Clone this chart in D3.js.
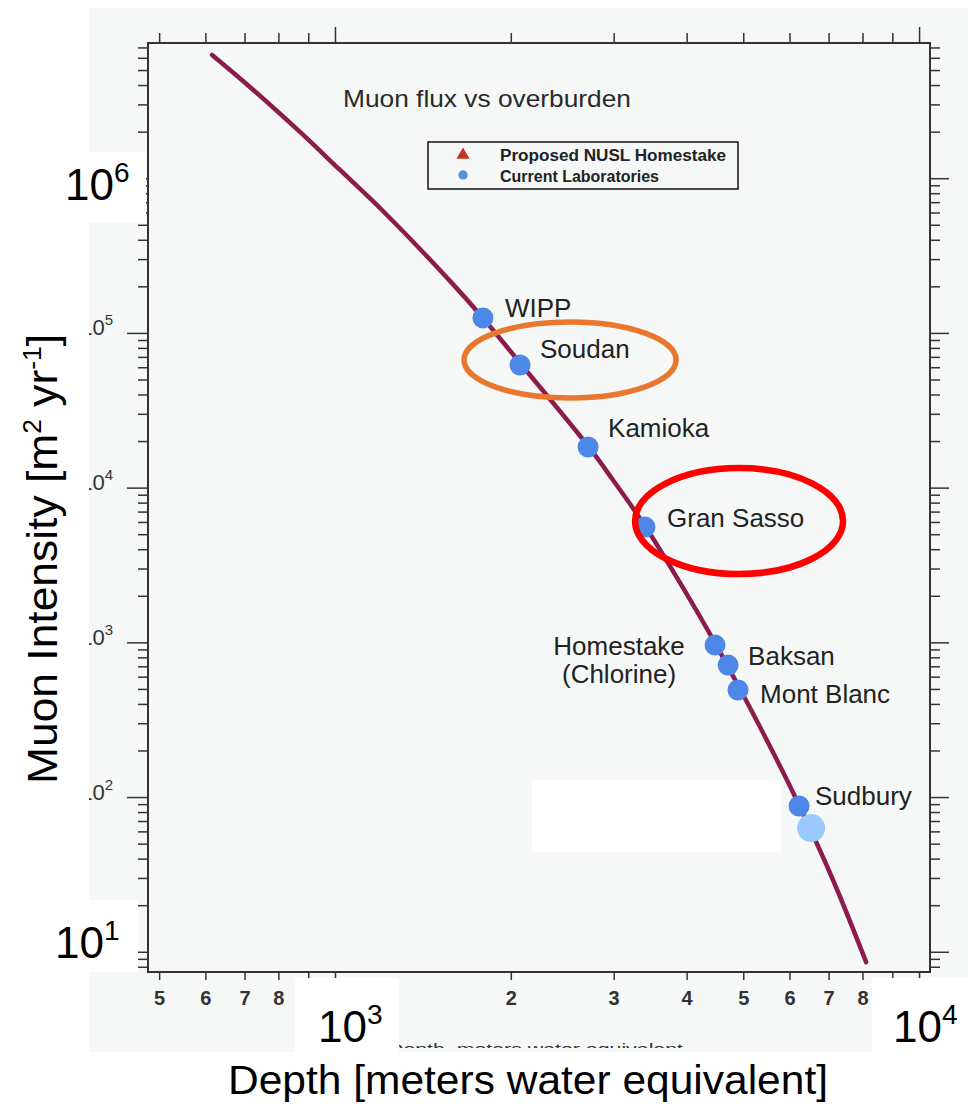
<!DOCTYPE html>
<html>
<head>
<meta charset="utf-8">
<script src="https://cdn.jsdelivr.net/npm/d3@7/dist/d3.min.js"></script>
<style>
  html, body { margin: 0; padding: 0; background: #fff; }
  svg { display: block; }
  text { font-family: "Liberation Sans", Arial, sans-serif; }
</style>
</head>
<body>
<svg id="chart" width="968" height="1104"></svg>
<script>
// underground labs: depth (m.w.e.) and muon intensity (m^-2 yr^-1)
const labNames = ["WIPP", "Soudan", "Kamioka", "Gran Sasso", "Homestake", "Baksan", "Mont Blanc", "Sudbury"];
const labDepth = [1792, 2074, 2712, 3395, 4474, 4710, 4898, 6230];
const labFlux = [1.25e5, 6.2e4, 1.83e4, 5.56e3, 960, 713, 492, 87.5];

// extra (light blue) point next to Sudbury
const extraDepth = [6533];
const extraFlux = [63];

// muon flux curve
const curveDepth = [616, 715, 871, 1020, 1208, 1573, 1792, 2074, 2712, 2992, 3395, 3898, 4474, 4937, 5713, 6230, 7123, 8116];
const curveFlux = [6.26e6, 3.89e6, 1.99e6, 1.13e6, 6.14e5, 2.17e5, 1.25e5, 6.39e4, 1.86e4, 1.12e4, 5.65e3, 2.42e3, 989, 499, 173, 88.8, 29.1, 8.58];

// axes
const xDomain = [478.5, 10440];
const yDomain = [7.4, 7.48e6];
const xDecades = [100, 1000, 10000];
const yDecades = [1, 10, 100, 1e3, 1e4, 1e5, 1e6, 1e7];
const minorDigits = [1, 2, 3, 4, 5, 6, 7, 8, 9];
const xDigitLabels = [2, 3, 4, 5, 6, 7, 8];     // 9 sits under the pasted 10^3 / 10^4 labels
const yPowLabels = [2, 3, 4, 5];                // 10^1 and 10^6 are covered by the big labels

// highlight ellipses (centre in data units)
const ringDepth = [2526, 4918];
const ringFlux = [6.68e4, 6083];
const ringColor = ["#e9772f", "#ff0000"];

const legendItems = ["Proposed NUSL Homestake", "Current Laboratories"];

// label placement next to each lab point
const labelPos = {
  "WIPP": {dx: 22, dy: -1},
  "Soudan": {dx: 20, dy: -7},
  "Kamioka": {dx: 20, dy: -10},
  "Gran Sasso": {dx: 22, dy: 0},
  "Homestake": {dx: -96, dy: 10, anchor: "middle", second: "(Chlorine)"},
  "Baksan": {dx: 20, dy: 0},
  "Mont Blanc": {dx: 22, dy: 13},
  "Sudbury": {dx: 16, dy: -1}
};

const svg = d3.select("#chart");
const plot = {left: 148, right: 930, top: 43, bottom: 972};

const x = d3.scaleLog().domain(xDomain).range([plot.left, plot.right]);
const y = d3.scaleLog().domain(yDomain).range([plot.bottom, plot.top]);

// screenshot background
svg.append("rect").attr("x", 86).attr("y", 8).attr("width", 882).attr("height", 1044).attr("fill", "#f5f8f6");

const inX = v => v >= xDomain[0] && v <= xDomain[1];
const inY = v => v >= yDomain[0] && v <= yDomain[1];
const xTicks = xDecades.flatMap(d => minorDigits.map(m => m * d)).filter(inX);
const yTicks = yDecades.flatMap(d => minorDigits.map(m => m * d)).filter(inY);
const isDecade = v => Math.abs(Math.log10(v) - Math.round(Math.log10(v))) < 1e-9;
const leadDigit = v => Math.round(v / Math.pow(10, Math.floor(Math.log10(v) + 1e-9)));

function tickAxis(axisFn, scale, vals, tx, ty, minorLen, majorLen, attr, sign) {
  const g = svg.append("g")
    .attr("transform", `translate(${tx},${ty})`)
    .call(axisFn(scale).tickValues(vals).tickSize(minorLen).tickSizeOuter(0).tickFormat(""));
  g.select(".domain").remove();
  g.selectAll(".tick line").attr("stroke", "#333").attr("stroke-width", 1.5);
  g.selectAll(".tick").filter(d => isDecade(d)).select("line").attr(attr, sign * majorLen);
  return g;
}

const gLeft = tickAxis(d3.axisLeft, y, yTicks, plot.left, 0, 10, 21, "x2", -1);
tickAxis(d3.axisRight, y, yTicks, plot.right, 0, 10, 19, "x2", 1);
tickAxis(d3.axisTop, x, xTicks, 0, plot.top, 10, 16, "y2", -1);
const gBottom = tickAxis(d3.axisBottom, x, xTicks, 0, plot.bottom, 8, 8, "y2", 1);

// left decade labels 10^k
gLeft.selectAll(".tick")
  .filter(d => isDecade(d) && yPowLabels.includes(Math.round(Math.log10(d))))
  .each(function(d) {
    const t = d3.select(this).append("text")
      .attr("x", -35).attr("y", 2)
      .attr("text-anchor", "end")
      .attr("fill", "#333")
      .style("font-size", "22px");
    t.append("tspan").text("10");
    t.append("tspan").attr("dy", -10).style("font-size", "15px").text(Math.round(Math.log10(d)));
  });

// bottom digit labels
gBottom.selectAll(".tick")
  .filter(d => !isDecade(d) && xDigitLabels.includes(leadDigit(d)))
  .append("text")
  .attr("y", 33).attr("dy", 0)
  .attr("fill", "#333")
  .attr("text-anchor", "middle")
  .style("font-family", "'Liberation Sans Narrow', 'Liberation Sans', sans-serif")
  .style("font-weight", "bold")
  .style("font-size", "20px")
  .text(d => leadDigit(d));

// frame
svg.append("rect")
  .attr("x", plot.left).attr("y", plot.top)
  .attr("width", plot.right - plot.left).attr("height", plot.bottom - plot.top)
  .attr("fill", "none").attr("stroke", "#333").attr("stroke-width", 2);

// title
svg.append("text")
  .attr("x", 343).attr("y", 107)
  .attr("fill", "#2a2a2a")
  .attr("textLength", 288).attr("lengthAdjust", "spacingAndGlyphs")
  .style("font-size", "24px")
  .text("Muon flux vs overburden");

// legend
const lg = svg.append("g");
lg.append("rect").attr("x", 428).attr("y", 142).attr("width", 310).attr("height", 47)
  .attr("fill", "none").attr("stroke", "#111").attr("stroke-width", 1.5);
lg.append("path").attr("transform", "translate(463,155)")
  .attr("d", d3.symbol(d3.symbolTriangle, 75)()).attr("fill", "#c8341f");
lg.append("path").attr("transform", "translate(463,175)")
  .attr("d", d3.symbol(d3.symbolCircle, 70)()).attr("fill", "#5a8ee0");
lg.selectAll("text.leg").data(legendItems).join("text")
  .attr("class", "leg")
  .attr("x", 500).attr("y", (d, i) => 161 + i * 21)
  .attr("fill", "#222")
  .attr("textLength", (d, i) => i === 0 ? 226 : 159)
  .attr("lengthAdjust", "spacingAndGlyphs")
  .style("font-family", "'Liberation Sans Narrow', 'Liberation Sans', sans-serif")
  .style("font-weight", "bold")
  .style("font-size", "16px")
  .text(d => d);

// curve
const curvePts = curveDepth.map((d, i) => [d, curveFlux[i]]);
svg.append("path")
  .datum(curvePts)
  .attr("fill", "none")
  .attr("stroke", "#8b1c4c")
  .attr("stroke-width", 4.5)
  .attr("stroke-linecap", "round")
  .attr("d", d3.line().x(d => x(d[0])).y(d => y(d[1])).curve(d3.curveCatmullRom));

// lab points
const labs = labNames.map((n, i) => ({name: n, depth: labDepth[i], flux: labFlux[i]}));
svg.selectAll("circle.lab").data(labs).join("circle")
  .attr("class", "lab")
  .attr("cx", d => x(d.depth)).attr("cy", d => y(d.flux))
  .attr("r", 10.5)
  .attr("fill", "#4d88e8");

// lab labels
labs.forEach(d => {
  const p = labelPos[d.name];
  svg.append("text")
    .attr("x", x(d.depth) + p.dx).attr("y", y(d.flux) + p.dy)
    .attr("text-anchor", p.anchor || "start")
    .attr("fill", "#222")
    .style("font-size", "26px")
    .text(d.name);
  if (p.second) {
    svg.append("text")
      .attr("x", x(d.depth) + p.dx).attr("y", y(d.flux) + p.dy + 28)
      .attr("text-anchor", "middle")
      .attr("fill", "#222")
      .style("font-size", "26px")
      .text(p.second);
  }
});

// faint original x-axis caption, clipped
svg.append("clipPath").attr("id", "capclip")
  .append("rect").attr("x", 0).attr("y", 0).attr("width", 968).attr("height", 1048);
svg.append("text")
  .attr("clip-path", "url(#capclip)")
  .attr("x", 388).attr("y", 1054)
  .attr("fill", "#333")
  .attr("textLength", 295).attr("lengthAdjust", "spacingAndGlyphs")
  .style("font-size", "15px")
  .text("Depth, meters water equivalent");

// highlight rings
svg.selectAll("ellipse.ring").data(ringDepth).join("ellipse")
  .attr("class", "ring")
  .attr("cx", d => x(d)).attr("cy", (d, i) => y(ringFlux[i]))
  .attr("rx", (d, i) => i === 0 ? 106 : 104)
  .attr("ry", (d, i) => i === 0 ? 38 : 53)
  .attr("fill", "none")
  .attr("stroke", (d, i) => ringColor[i])
  .attr("stroke-width", (d, i) => i === 0 ? 5.5 : 6.5);

// extra point
svg.selectAll("circle.extra").data(extraDepth).join("circle")
  .attr("class", "extra")
  .attr("cx", d => x(d)).attr("cy", (d, i) => y(extraFlux[i]))
  .attr("r", 14)
  .attr("fill", "#99c9fd");

// white patches from the pasted-over slide
const patches = [
  [0, 0, 968, 8], [0, 0, 89, 1104], [0, 1052, 968, 52],
  [0, 152, 146, 71], [0, 900, 138, 72],
  [295, 978, 104, 80], [872, 978, 96, 80],
  [532, 780, 249, 72]
];
svg.selectAll("rect.patch").data(patches).join("rect")
  .attr("class", "patch")
  .attr("x", d => d[0]).attr("y", d => d[1]).attr("width", d => d[2]).attr("height", d => d[3])
  .attr("fill", "#fff");

// large overlaid exponent labels
function bigPow(px, py, exp) {
  const t = svg.append("text").attr("x", px).attr("y", py).attr("fill", "#000").style("font-size", "44px");
  t.append("tspan").text("10");
  t.append("tspan").attr("dy", -18).style("font-size", "28px").text(exp);
}
bigPow(65, 200, "6");
bigPow(55, 958, "1");
bigPow(318, 1042, "3");
bigPow(893, 1042, "4");

// axis titles
svg.append("text")
  .attr("x", 528).attr("y", 1094)
  .attr("text-anchor", "middle")
  .attr("fill", "#000")
  .attr("textLength", 600).attr("lengthAdjust", "spacingAndGlyphs")
  .style("font-size", "40px")
  .text("Depth [meters water equivalent]");

const yl = svg.append("text")
  .attr("transform", "translate(57,559) rotate(-90)")
  .attr("text-anchor", "middle")
  .attr("fill", "#000")
  .attr("textLength", 450).attr("lengthAdjust", "spacingAndGlyphs")
  .style("font-size", "42px");
yl.append("tspan").text("Muon Intensity [m");
yl.append("tspan").attr("dy", -16).style("font-size", "25px").text("2");
yl.append("tspan").attr("dy", 16).text(" yr");
yl.append("tspan").attr("dy", -16).style("font-size", "25px").text("-1");
yl.append("tspan").attr("dy", 16).text("]");
</script>
</body>
</html>
